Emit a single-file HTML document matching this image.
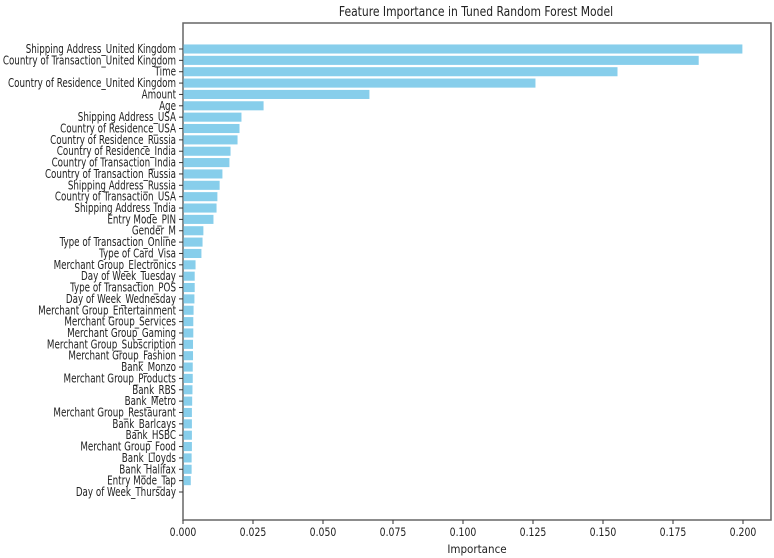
<!DOCTYPE html>
<html><head><meta charset="utf-8"><style>
html,body{margin:0;padding:0;background:#fff;}
svg{display:block;font-family:"DejaVu Sans Condensed","Liberation Sans Narrow","Liberation Sans",sans-serif;}
</style></head><body>
<svg id="chart" width="774" height="558" viewBox="0 0 774 558">
<text id="title" x="476" y="16" text-anchor="middle" font-size="13" fill="#222">Feature Importance in Tuned Random Forest Model</text>
<rect x="183" y="23" width="588" height="497" fill="none" stroke="#666" stroke-width="1.5"/>
<g id="bars"></g><g id="yticks"></g><g id="xticks"></g>
<text x="477" y="553" text-anchor="middle" font-size="11.5" fill="#222">Importance</text>
</svg>
<script>
const features = ["Shipping Address_United Kingdom","Country of Transaction_United Kingdom","Time","Country of Residence_United Kingdom","Amount","Age","Shipping Address_USA","Country of Residence_USA","Country of Residence_Russia","Country of Residence_India","Country of Transaction_India","Country of Transaction_Russia","Shipping Address_Russia","Country of Transaction_USA","Shipping Address_India","Entry Mode_PIN","Gender_M","Type of Transaction_Online","Type of Card_Visa","Merchant Group_Electronics","Day of Week_Tuesday","Type of Transaction_POS","Day of Week_Wednesday","Merchant Group_Entertainment","Merchant Group_Services","Merchant Group_Gaming","Merchant Group_Subscription","Merchant Group_Fashion","Bank_Monzo","Merchant Group_Products","Bank_RBS","Bank_Metro","Merchant Group_Restaurant","Bank_Barlcays","Bank_HSBC","Merchant Group_Food","Bank_Lloyds","Bank_Halifax","Entry Mode_Tap","Day of Week_Thursday"];
const importance = [0.1996,0.184,0.155,0.1257,0.0664,0.0286,0.0207,0.0200,0.0193,0.0168,0.0164,0.0139,0.0129,0.0121,0.0118,0.0107,0.0071,0.0068,0.0064,0.0043,0.0040,0.0040,0.0039,0.0036,0.0035,0.0035,0.0034,0.0034,0.0033,0.0033,0.0032,0.0031,0.0030,0.0030,0.0030,0.0030,0.0029,0.0029,0.0026,0.0];
const xTicks = [0,0.025,0.05,0.075,0.1,0.125,0.15,0.175,0.2];
const NS="http://www.w3.org/2000/svg";
const x0=183, pxPerUnit=2800;
function xScale(v){return x0+v*pxPerUnit;}
const y0=49, step=(492-49)/(features.length-1);
function yScale(i){return y0+i*step;}
const bh=step*0.8;
function squeeze(el,f){const w=el.getComputedTextLength();el.setAttribute('textLength',w*f);el.setAttribute('lengthAdjust','spacingAndGlyphs');}
const gb=document.getElementById('bars'), gy=document.getElementById('yticks'), gx=document.getElementById('xticks');
features.forEach((f,i)=>{
  const y=yScale(i);
  const r=document.createElementNS(NS,'rect');
  r.setAttribute('x',xScale(0)+0.5);r.setAttribute('y',y-bh/2);
  r.setAttribute('width',Math.max(0,xScale(importance[i])-xScale(0)));r.setAttribute('height',bh);
  r.setAttribute('fill','#87ceeb');
  
  
  gb.appendChild(r);
  const t=document.createElementNS(NS,'line');
  t.setAttribute('x1',x0-4);t.setAttribute('x2',x0);t.setAttribute('y1',y);t.setAttribute('y2',y);t.setAttribute('stroke','#333');
  
  
  gy.appendChild(t);
  const l=document.createElementNS(NS,'text');
  l.setAttribute('x',x0-7);l.setAttribute('y',y+4);l.setAttribute('text-anchor','end');l.setAttribute('font-size','12');l.setAttribute('fill','#222');
  l.textContent=f;
  
  
  gy.appendChild(l);
  squeeze(l,0.81);
});
xTicks.forEach(v=>{
  const x=xScale(v);
  const t=document.createElementNS(NS,'line');
  t.setAttribute('x1',x);t.setAttribute('x2',x);t.setAttribute('y1',520);t.setAttribute('y2',524);t.setAttribute('stroke','#333');
  
  
  gx.appendChild(t);
  const l=document.createElementNS(NS,'text');
  l.setAttribute('x',x);l.setAttribute('y',536);l.setAttribute('text-anchor','middle');l.setAttribute('font-size','11.5');l.setAttribute('fill','#222');
  l.textContent=v.toFixed(3);
  
  
  gx.appendChild(l);
  squeeze(l,0.9);
});
squeeze(document.getElementById('title'),0.92);
</script>
</body></html>
